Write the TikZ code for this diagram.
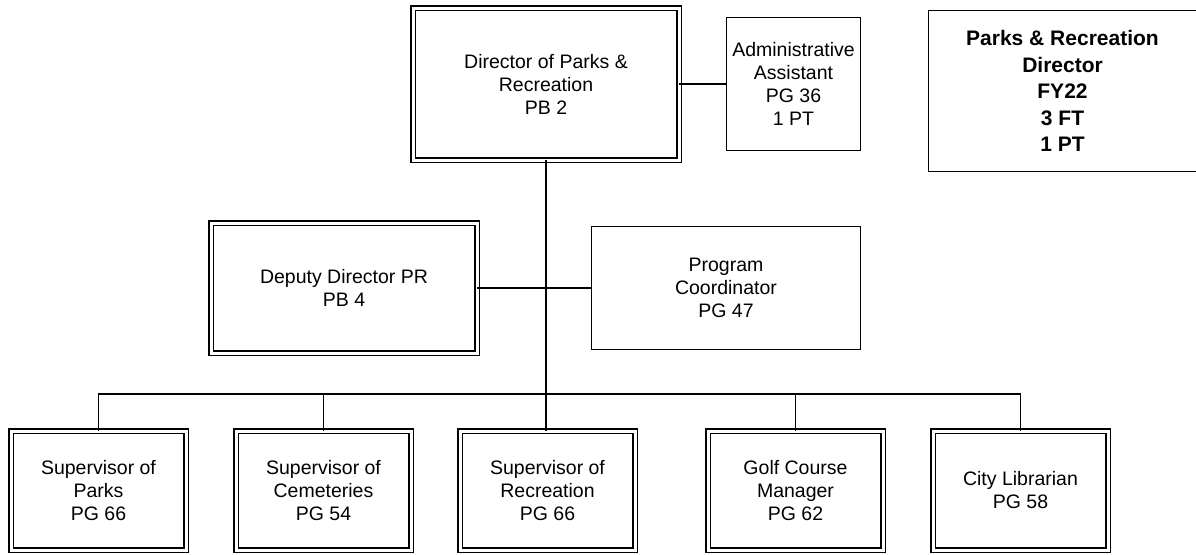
\documentclass[tikz,border=0pt]{standalone}
\usepackage{fontspec}
\setmainfont{Liberation Sans}
\usetikzlibrary{positioning}

\begin{document}
\begin{tikzpicture}[x=1pt, y=-1pt, font=\fontsize{19.5}{23}\selectfont,
  node distance=50pt,
  post/.style={draw, line width=1.3pt, align=center, inner sep=0pt, outer sep=0pt},
  dpost/.style={post, double, double distance=3pt},
  unit/.style={dpost, minimum width=175pt, minimum height=119pt},
  link/.style={line width=1.3pt},
  trunk/.style={line width=2.6pt}]
\useasboundingbox (0,0) rectangle (1196,554);
% top row
\node[dpost, minimum width=266pt, minimum height=152pt] (dir) at (546,84) {Director of Parks \&\\Recreation\\PB 2};
\node[post, minimum width=133.6pt, minimum height=132.6pt] (adm) at (793.5,84) {Administrative\\Assistant\\PG 36\\1 PT};
\node[post, minimum width=268pt, minimum height=160.6pt, font=\fontsize{21}{26.5}\selectfont\bfseries] (ttl) at (1062.5,91) {Parks \& Recreation\\Director\\FY22\\3 FT\\1 PT};
% middle row
\node[dpost, minimum width=266pt, minimum height=130pt] (dep) at (344,288) {Deputy Director PR\\PB 4};
\node[post, minimum width=268.6pt, minimum height=122.6pt] (pc) at (726,288) {Program\\Coordinator\\PG 47};
% bottom row
\node[unit] (s1) at (98.5,490.5) {Supervisor of\\Parks\\PG 66};
\node[unit, right=of s1] (s2) {Supervisor of\\Cemeteries\\PG 54};
\node[unit, right=49pt of s2] (s3) {Supervisor of\\Recreation\\PG 66};
\node[unit, right=73pt of s3] (s4) {Golf Course\\Manager\\PG 62};
\node[unit, right=of s4] (s5) {City Librarian\\PG 58};
% connectors
\coordinate (bus) at (546,394);
\draw[link] (dir) -- (adm);
\draw[link] (dep) -- (pc);
\draw[link] (s1.north) |- (bus) -| (s5.north);
\foreach \n in {s2,s4}\draw[link] (\n.north) -- (\n.north |- bus);
\draw[trunk] (dir.south) -- (dir.south |- s3.north);
\end{tikzpicture}
\end{document}
